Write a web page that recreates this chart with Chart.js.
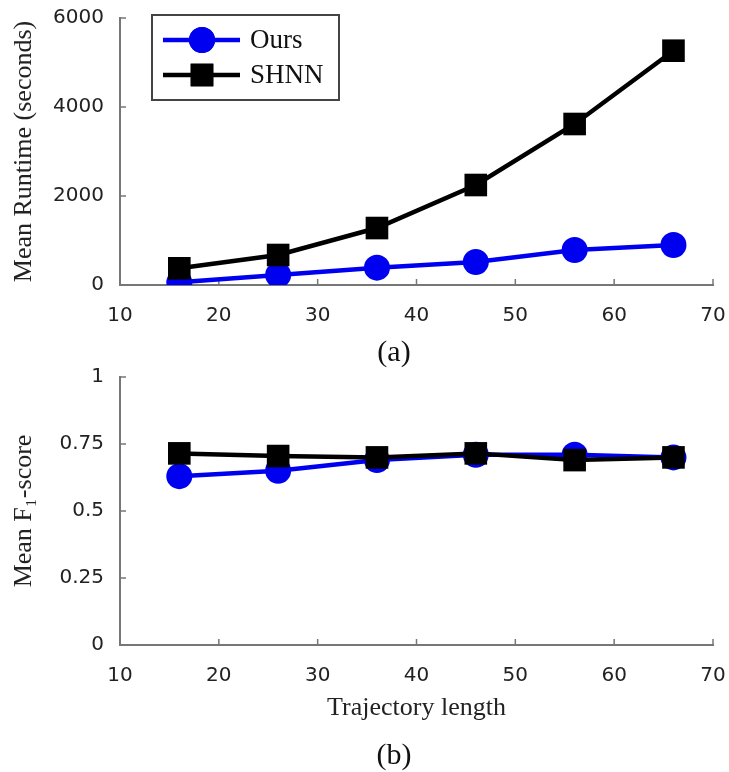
<!DOCTYPE html>
<html>
<head>
<meta charset="utf-8">
<script src="https://cdn.jsdelivr.net/npm/chart.js@4"></script>
<style>
  body { margin: 0; background: #fff; }
  canvas { display: block; }
</style>
</head>
<body>
<canvas id="plotA" width="729" height="368"></canvas>
<canvas id="plotB" width="729" height="404"></canvas>
<script>
// Longitudes de trayectoria (eje x) y marcas de los ejes
let longitudes = [16, 26, 36, 46, 56, 66];
let ticksX = [10, 20, 30, 40, 50, 60, 70];
let ticksRuntime = [0, 2000, 4000, 6000];
let ticksF1 = [0, 0.25, 0.5, 0.75, 1];

// Series
let runtimeOurs = [60, 225, 390, 517, 786, 900];
let runtimeShnn = [375, 674, 1280, 2247, 3618, 5265];
let f1Ours = [0.63, 0.65, 0.69, 0.71, 0.71, 0.70];
let f1Shnn = [0.715, 0.705, 0.70, 0.715, 0.69, 0.70];

let nombres = ['Ours', 'SHNN'];

let puntos = (ys) => longitudes.map((x, i) => ({x: x, y: ys[i]}));

let serie = (label, ys, color, estilo, radio, orden) => ({
  label: label,
  data: puntos(ys),
  borderColor: color,
  backgroundColor: color,
  borderWidth: 4.5,
  pointStyle: estilo,
  pointRadius: radio,
  pointHoverRadius: radio,
  pointBorderWidth: 0,
  order: orden
});

// Marcas hacia dentro, como en la figura original
let marcasInternas = {
  id: 'marcasInternas',
  beforeDatasetsDraw(chart) {
    const ctx = chart.ctx;
    const sx = chart.scales.x, sy = chart.scales.y;
    const area = chart.chartArea;
    ctx.save();
    ctx.strokeStyle = '#777';
    ctx.lineWidth = 1.5;
    ctx.beginPath();
    sx.ticks.forEach(t => {
      const px = sx.getPixelForValue(t.value);
      ctx.moveTo(px, area.bottom);
      ctx.lineTo(px, area.bottom - 6);
    });
    sy.ticks.forEach(t => {
      const py = sy.getPixelForValue(t.value);
      ctx.moveTo(area.left, py);
      ctx.lineTo(area.left + 6, py);
    });
    ctx.stroke();
    ctx.restore();
  }
};

// Leyenda con recuadro dentro del area del grafico
let leyendaCaja = {
  id: 'leyendaCaja',
  afterDraw(chart, args, opts) {
    if (!opts.display) return;
    const ctx = chart.ctx;
    ctx.save();
    ctx.strokeStyle = '#444';
    ctx.lineWidth = 2;
    ctx.strokeRect(152, 15, 187, 85);
    chart.data.datasets.forEach((ds, i) => {
      const y = 40 + i * 35;
      ctx.strokeStyle = ds.borderColor;
      ctx.lineWidth = 4.5;
      ctx.beginPath();
      ctx.moveTo(163, y);
      ctx.lineTo(240, y);
      ctx.stroke();
      ctx.fillStyle = ds.backgroundColor;
      Chart.helpers.drawPoint(ctx, {pointStyle: ds.pointStyle, radius: ds.pointRadius, borderWidth: 0}, 202, y);
      ctx.fill();
      ctx.fillStyle = '#111';
      ctx.font = '27px "Liberation Serif"';
      ctx.textBaseline = 'middle';
      ctx.fillText(ds.label, 250, y + 1);
    });
    ctx.restore();
  }
};

// Rotulo (a) / (b) bajo cada grafico
let rotulo = {
  id: 'rotulo',
  afterDraw(chart, args, opts) {
    const ctx = chart.ctx;
    ctx.save();
    ctx.fillStyle = '#111';
    ctx.font = '30px "Liberation Serif"';
    ctx.textAlign = 'center';
    ctx.textBaseline = 'middle';
    ctx.fillText(opts.text, 394, opts.y);
    ctx.restore();
  }
};

let fuenteTicks = {family: '"DejaVu Sans"', size: 20};
let fuenteTitulo = {family: '"Liberation Serif"', size: 26};

let crearGrafico = (id, datasets, ticksY, tituloY, tituloX, alturaX, arriba, rot) => {
  let config = {
    type: 'line',
    data: {datasets: datasets},
    options: {
      responsive: false,
      animation: false,
      layout: {autoPadding: false, padding: {top: arriba, right: 16, bottom: 0, left: 0}},
      plugins: {
        legend: {display: false},
        tooltip: {enabled: false},
        leyendaCaja: {display: id === 'plotA'},
        rotulo: rot
      },
      scales: {
        x: {
          type: 'linear',
          min: ticksX[0],
          max: ticksX[ticksX.length - 1],
          afterBuildTicks: s => { s.ticks = ticksX.map(v => ({value: v})); },
          afterFit: s => { s.height = alturaX; s.paddingLeft = 0; s.paddingRight = 0; },
          grid: {display: false, drawTicks: false},
          border: {display: true, color: '#777', width: 2},
          ticks: {font: fuenteTicks, color: '#222', padding: 19, callback: v => String(v)},
          title: {display: tituloX !== '', text: tituloX, font: fuenteTitulo, color: '#222', padding: {top: 0, bottom: 48}}
        },
        y: {
          type: 'linear',
          min: ticksY[0],
          max: ticksY[ticksY.length - 1],
          afterBuildTicks: s => { s.ticks = ticksY.map(v => ({value: v})); },
          afterFit: s => { s.width = 120; s.paddingTop = 0; s.paddingBottom = 0; },
          grid: {display: false, drawTicks: false},
          border: {display: true, color: '#777', width: 2},
          ticks: {font: fuenteTicks, color: '#222', padding: 16, callback: v => String(v)},
          title: {display: true, text: tituloY, font: fuenteTitulo, color: '#222', padding: {top: 9, bottom: 0}}
        }
      }
    },
    plugins: [marcasInternas, leyendaCaja, rotulo]
  };
  return new Chart(document.getElementById(id), config);
};

crearGrafico('plotA', [
  serie(nombres[0], runtimeOurs, '#0000f0', 'circle', 13, 1),
  serie(nombres[1], runtimeShnn, '#000000', 'rect', 16, 0)
], ticksRuntime, 'Mean Runtime (seconds)', '', 83, 18, {text: '(a)', y: 353});

crearGrafico('plotB', [
  serie(nombres[0], f1Ours, '#0000f0', 'circle', 13, 1),
  serie(nombres[1], f1Shnn, '#000000', 'rect', 16, 0)
], ticksF1, 'Mean F\u2081-score', 'Trajectory length', 127, 9, {text: '(b)', y: 388});
</script>
</body>
</html>
